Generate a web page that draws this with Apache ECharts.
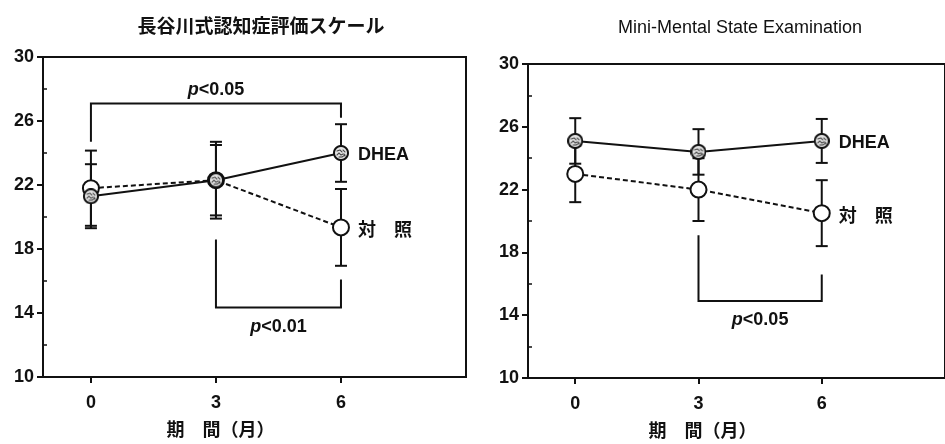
<!DOCTYPE html>
<html>
<head>
<meta charset="utf-8">
<script src="https://cdn.jsdelivr.net/npm/echarts@6/dist/echarts.min.js"></script>
<style>
html, body { margin: 0; padding: 0; background: #fff; }
#chart { width: 945px; height: 444px; }
</style>
</head>
<body>
<div id="chart"></div>
<script>
// Months after start of treatment
const months = [0, 3, 6];

// 長谷川式認知症評価スケール (mean and SD)
const hdsDhea = [21.3, 22.3, 24.0];
const hdsDheaSd = [2.0, 2.2, 1.8];
const hdsCtrl = [21.8, 22.3, 19.35];
const hdsCtrlSd = [2.35, 2.4, 2.4];

// Mini-Mental State Examination (mean and SD)
const mmseDhea = [25.1, 24.4, 25.1];
const mmseDheaSd = [1.45, 1.45, 1.4];
const mmseCtrl = [23.0, 22.0, 20.5];
const mmseCtrlSd = [1.8, 2.0, 2.1];

// Axis ticks
const xTicks = [0, 3, 6];
const yMajorTicks = [10, 14, 18, 22, 26, 30];
const yMinorTicks = [12, 16, 20, 24, 28];

// Significance brackets: [fromMonth, toMonth, barScore, legEndFrom, legEndTo, textMonth, textScore]
const hdsBrackets = [
  [0, 6, 27.1, 24.7, 26.2, 3, 27.95],
  [3, 6, 14.35, 18.6, 16.1, 4.5, 13.15]
];
const hdsBracketText = ['p<0.05', 'p<0.01'];
const mmseBrackets = [
  [3, 6, 14.9, 19.1, 16.6, 4.5, 13.7]
];
const mmseBracketText = ['p<0.05'];

const INK = '#111';
const LATIN = '"Liberation Sans", Arial, sans-serif';
const CJK = '"Noto Sans CJK JP", "Liberation Sans", sans-serif';

// Shaded marker for the DHEA group: outlined circle with a scribbled fill
function shadedMarker() {
  const s = 4, n = 16 * s;
  const c = document.createElement('canvas');
  c.width = n; c.height = n;
  const g = c.getContext('2d');
  const r = n / 2 - 1 * s;
  g.beginPath();
  g.arc(n / 2, n / 2, r, 0, Math.PI * 2);
  g.fillStyle = '#e4e4e4';
  g.fill();
  g.save();
  g.clip();
  g.strokeStyle = '#444';
  g.lineWidth = 1.1 * s;
  g.lineCap = 'round';
  const strokes = [
    [[4, 6], [7, 5], [9, 7]],
    [[10, 5], [12, 7]],
    [[4, 10], [6, 8], [8, 10], [10, 9]],
    [[6, 12], [9, 12], [12, 10]],
    [[11, 9], [12, 11]]
  ];
  strokes.forEach(pts => {
    g.beginPath();
    pts.forEach((p, i) => (i ? g.lineTo(p[0] * s, p[1] * s) : g.moveTo(p[0] * s, p[1] * s)));
    g.stroke();
  });
  g.restore();
  g.beginPath();
  g.arc(n / 2, n / 2, r, 0, Math.PI * 2);
  g.strokeStyle = INK;
  g.lineWidth = 2 * s;
  g.stroke();
  return 'image://' + c.toDataURL();
}
const dheaSymbol = shadedMarker();

function errRows(mean, sd) {
  return months.map((m, i) => [m, mean[i] - sd[i], mean[i] + sd[i]]);
}
function points(vals) {
  return months.map((m, i) => [m, vals[i]]);
}

function renderErrorBar(params, api) {
  const x = api.value(0);
  const lo = api.coord([x, api.value(1)]);
  const hi = api.coord([x, api.value(2)]);
  const cap = 6;
  const st = { stroke: INK, lineWidth: 2 };
  return {
    type: 'group',
    children: [
      { type: 'line', shape: { x1: lo[0], y1: lo[1], x2: hi[0], y2: hi[1] }, style: st },
      { type: 'line', shape: { x1: lo[0] - cap, y1: lo[1], x2: lo[0] + cap, y2: lo[1] }, style: st },
      { type: 'line', shape: { x1: hi[0] - cap, y1: hi[1], x2: hi[0] + cap, y2: hi[1] }, style: st }
    ]
  };
}

function bracketRenderer(texts) {
  return function (params, api) {
    const a = api.coord([api.value(0), api.value(3)]);
    const b = api.coord([api.value(0), api.value(2)]);
    const c = api.coord([api.value(1), api.value(2)]);
    const d = api.coord([api.value(1), api.value(4)]);
    const t = api.coord([api.value(5), api.value(6)]);
    return {
      type: 'group',
      children: [
        {
          type: 'polyline',
          shape: { points: [a, b, c, d] },
          style: { stroke: INK, lineWidth: 2, fill: null }
        },
        {
          type: 'text',
          x: t[0], y: t[1],
          style: {
            text: '{i|p}<' + texts[params.dataIndex].split('<')[1],
            align: 'center',
            verticalAlign: 'middle',
            fill: INK,
            font: 'bold 18px ' + LATIN,
            rich: {
              i: { fontStyle: 'italic', fontWeight: 'bold', fontSize: 18, fontFamily: LATIN, fill: INK }
            }
          }
        }
      ]
    };
  };
}

function xAxisFor(gridIndex) {
  return {
    type: 'value',
    gridIndex: gridIndex,
    min: -1.15,
    max: 9,
    axisLine: { onZero: false, lineStyle: { color: INK, width: 2 } },
    axisTick: { customValues: xTicks, length: 6, lineStyle: { color: INK, width: 2 } },
    axisLabel: {
      customValues: xTicks, margin: 17, color: INK,
      fontSize: 18, fontWeight: 'bold', fontFamily: LATIN
    },
    splitLine: { show: false },
    name: '期　間（月）',
    nameLocation: 'middle',
    nameGap: 43,
    nameTextStyle: {
      color: INK, fontSize: 18, fontWeight: 'bold', fontFamily: CJK,
      padding: [0, 68, 0, 0]
    }
  };
}
function yAxisMajor(gridIndex) {
  return {
    type: 'value',
    gridIndex: gridIndex,
    position: 'left',
    min: 10,
    max: 30,
    axisLine: { show: true, onZero: false, lineStyle: { color: INK, width: 2 } },
    axisTick: { show: true, customValues: yMajorTicks, length: 6, lineStyle: { color: INK, width: 2 } },
    axisLabel: {
      customValues: yMajorTicks, margin: 9, color: INK,
      fontSize: 18, fontWeight: 'bold', fontFamily: LATIN
    },
    splitLine: { show: false }
  };
}
function yAxisMinor(gridIndex) {
  return {
    type: 'value',
    gridIndex: gridIndex,
    position: 'left',
    min: 10,
    max: 30,
    axisLine: { show: false, onZero: false },
    axisTick: { show: true, inside: true, customValues: yMinorTicks, length: 4, lineStyle: { color: INK, width: 1.5 } },
    axisLabel: { show: false },
    splitLine: { show: false }
  };
}

function panelSeries(xi, yi, dhea, dheaSd, ctrl, ctrlSd, brackets, texts) {
  return [
    {
      type: 'custom', xAxisIndex: xi, yAxisIndex: yi, z: 1,
      renderItem: renderErrorBar, data: errRows(ctrl, ctrlSd), silent: true
    },
    {
      type: 'custom', xAxisIndex: xi, yAxisIndex: yi, z: 1,
      renderItem: renderErrorBar, data: errRows(dhea, dheaSd), silent: true
    },
    {
      type: 'custom', xAxisIndex: xi, yAxisIndex: yi, z: 1,
      renderItem: bracketRenderer(texts), data: brackets, silent: true
    },
    {
      name: '対照', type: 'line', xAxisIndex: xi, yAxisIndex: yi, z: 3,
      data: points(ctrl),
      symbol: 'circle', symbolSize: 16,
      lineStyle: { color: INK, width: 2, type: [5, 3] },
      itemStyle: { color: '#fff', borderColor: INK, borderWidth: 2 },
      endLabel: {
        show: true, formatter: '対　照', distance: 17, offset: [0, 2],
        color: INK, fontSize: 18, fontWeight: 'bold', fontFamily: CJK
      }
    },
    {
      name: 'DHEA', type: 'line', xAxisIndex: xi, yAxisIndex: yi, z: 4,
      data: points(dhea),
      symbol: dheaSymbol, symbolSize: 16,
      lineStyle: { color: INK, width: 2 },
      itemStyle: { color: INK },
      endLabel: {
        show: true, formatter: 'DHEA', distance: 17, offset: [0, 2],
        color: INK, fontSize: 18, fontWeight: 'bold', fontFamily: LATIN
      }
    }
  ];
}

const chart = echarts.init(document.getElementById('chart'), null, { renderer: 'canvas' });
chart.setOption({
  animation: false,
  backgroundColor: '#fff',
  title: [
    {
      text: '長谷川式認知症評価スケール',
      left: 256, top: 11, textAlign: 'center',
      textStyle: { color: INK, fontSize: 19, fontWeight: 'bold', fontFamily: CJK }
    },
    {
      text: 'Mini-Mental State Examination',
      left: 735, top: 14, textAlign: 'center',
      textStyle: { color: INK, fontSize: 18, fontWeight: 'normal', fontFamily: LATIN }
    }
  ],
  grid: [
    { left: 43, top: 57, width: 423, height: 320, show: true, borderColor: INK, borderWidth: 2, backgroundColor: 'transparent' },
    { left: 528, top: 64, width: 423, height: 318, show: true, borderColor: INK, borderWidth: 2, backgroundColor: 'transparent' }
  ],
  xAxis: [xAxisFor(0), xAxisFor(1)],
  yAxis: [yAxisMajor(0), yAxisMinor(0), yAxisMajor(1), yAxisMinor(1)],
  series: [].concat(
    panelSeries(0, 0, hdsDhea, hdsDheaSd, hdsCtrl, hdsCtrlSd, hdsBrackets, hdsBracketText),
    panelSeries(1, 2, mmseDhea, mmseDheaSd, mmseCtrl, mmseCtrlSd, mmseBrackets, mmseBracketText)
  )
});
</script>
</body>
</html>
